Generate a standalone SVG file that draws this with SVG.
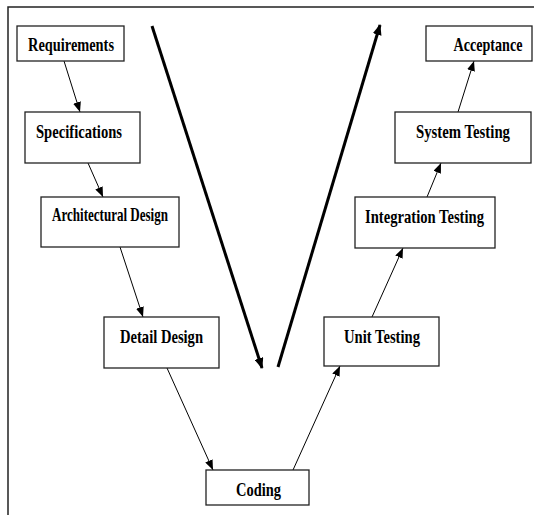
<svg xmlns="http://www.w3.org/2000/svg" width="534" height="515" viewBox="0 0 534 515">
<style>
.box{fill:#fff;stroke:#222;stroke-width:1.3}
.lbl{font-family:"Liberation Serif","Times New Roman",serif;font-weight:bold;font-size:19px;fill:#000;text-anchor:middle}
.thin{stroke:#000;stroke-width:1;fill:none;marker-end:url(#ah)}
.big{stroke:#000;stroke-width:3;fill:none;marker-end:url(#bh)}
</style>
<defs>
<marker id="ah" markerUnits="userSpaceOnUse" markerWidth="10" markerHeight="8" refX="10" refY="4" orient="auto"><path d="M0,0 L10,4 L0,8 Z" fill="#000"/></marker>
<marker id="bh" markerUnits="userSpaceOnUse" markerWidth="11" markerHeight="9" refX="10" refY="4.5" orient="auto"><path d="M0,0 L11,4.5 L0,9 Z" fill="#000"/></marker>
</defs>
<g id="frame" fill="none" stroke="#222" stroke-width="1.5">
<path d="M8,515 L8,7 L534,7"/>
</g>
<g id="connectors">
<line class="thin" x1="64" y1="61" x2="80" y2="112"/>
<line class="thin" x1="88" y1="163" x2="103" y2="197"/>
<line class="thin" x1="120" y1="247" x2="143" y2="317"/>
<line class="thin" x1="167" y1="368" x2="213" y2="470"/>
<line class="thin" x1="293" y1="470" x2="340" y2="366"/>
<line class="thin" x1="372" y1="317" x2="403" y2="248"/>
<line class="thin" x1="427" y1="197" x2="441" y2="163"/>
<line class="thin" x1="458" y1="112" x2="474" y2="61"/>
<line class="big" x1="152" y1="26" x2="262" y2="368"/>
<line class="big" x1="278" y1="367" x2="380" y2="25"/>
</g>
<g id="requirements"><rect class="box" x="17" y="26" width="107" height="35"/><text class="lbl" x="71" y="51" textLength="86" lengthAdjust="spacingAndGlyphs">Requirements</text></g>
<g id="specifications"><rect class="box" x="25" y="112" width="115" height="51"/><text class="lbl" x="79" y="138" textLength="86" lengthAdjust="spacingAndGlyphs">Specifications</text></g>
<g id="architectural-design"><rect class="box" x="41" y="197" width="138" height="50"/><text class="lbl" x="110" y="221" textLength="116" lengthAdjust="spacingAndGlyphs">Architectural Design</text></g>
<g id="detail-design"><rect class="box" x="104" y="317" width="115" height="51"/><text class="lbl" x="161.5" y="343" textLength="83" lengthAdjust="spacingAndGlyphs">Detail Design</text></g>
<g id="coding"><rect class="box" x="206" y="470" width="103" height="35"/><text class="lbl" x="258.5" y="496" textLength="45" lengthAdjust="spacingAndGlyphs">Coding</text></g>
<g id="unit-testing"><rect class="box" x="324" y="317" width="115" height="49"/><text class="lbl" x="382" y="343" textLength="76" lengthAdjust="spacingAndGlyphs">Unit Testing</text></g>
<g id="integration-testing"><rect class="box" x="355" y="197" width="140" height="51"/><text class="lbl" x="424.5" y="223" textLength="119" lengthAdjust="spacingAndGlyphs">Integration Testing</text></g>
<g id="system-testing"><rect class="box" x="395" y="112" width="136" height="51"/><text class="lbl" x="463" y="138" textLength="94" lengthAdjust="spacingAndGlyphs">System Testing</text></g>
<g id="acceptance"><rect class="box" x="426" y="26" width="106" height="35"/><text class="lbl" x="488" y="51" textLength="69" lengthAdjust="spacingAndGlyphs">Acceptance</text></g>
</svg>
